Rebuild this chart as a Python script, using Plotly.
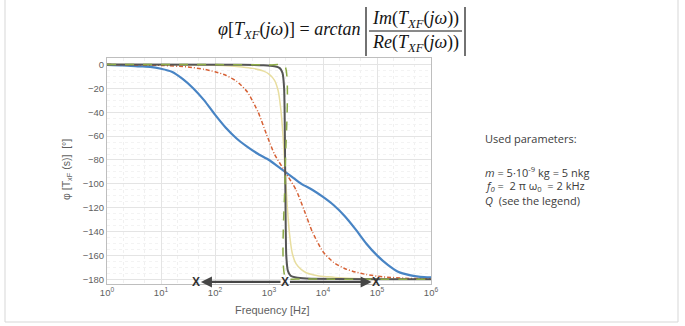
import plotly.graph_objects as go

# ---- data (log10 of frequency in Hz, phase in degrees) ----
blue_logf = [0, 0.3, 0.6, 0.8, 1.0, 1.2, 1.4, 1.6, 1.8, 2.0, 2.2, 2.4, 2.6, 2.8, 3.0, 3.15, 3.3,
             3.45, 3.6, 3.8, 4.0, 4.2, 4.4, 4.6, 4.8, 5.0, 5.2, 5.4, 5.6, 5.8, 6.0]
blue_phase = [-0.3, -0.7, -1.5, -2.0, -3.5, -6, -12, -20, -30, -42, -53, -62, -69, -75, -80, -85, -90,
              -95, -100, -105, -111, -118, -127, -138, -150, -160, -168, -174, -176.5, -178, -178.5]

red_logf = [0, 1.0, 1.5, 1.8, 2.0, 2.2, 2.4, 2.6, 2.8, 2.95, 3.1, 3.3,
            3.5, 3.65, 3.8, 4.0, 4.2, 4.4, 4.6, 4.8, 5.1, 5.6, 6.0]
red_phase = [0, -0.7, -2, -4, -6, -9, -14, -23, -40, -58, -75, -90,
             -105, -122, -140, -157, -166, -171, -174, -176, -178, -179.3, -179.7]

yellow_logf = [0, 1.5, 2.0, 2.3, 2.5, 2.7, 2.9, 3.0, 3.1, 3.17, 3.22, 3.26, 3.3,
               3.34, 3.38, 3.43, 3.5, 3.6, 3.7, 3.9, 4.1, 4.3, 4.7, 6.0]
yellow_phase = [0, -0.2, -0.5, -1.2, -2, -3.2, -5.5, -8, -13, -22, -38, -60, -90,
                -120, -142, -158, -167, -172, -174.8, -177, -178, -178.8, -179.5, -180]

grey_logf = [0, 2.5, 2.9, 3.1, 3.2, 3.25, 3.28, 3.3, 3.32, 3.35, 3.4, 3.5, 3.7, 6.0]
grey_phase = [0, -0.2, -0.6, -1.5, -3, -7, -20, -90, -160, -173, -177, -178.5, -179.3, -180]

green_logf = [0, 3.0, 3.29, 3.3, 3.31, 3.6, 6.0]
green_phase = [0, -0.3, -1, -90, -179, -179.7, -180]

x_tick_vals = [1, 10, 100, 1000, 10000, 100000, 1000000]
x_tick_text = ["10<sup>0</sup>", "10<sup>1</sup>", "10<sup>2</sup>", "10<sup>3</sup>",
               "10<sup>4</sup>", "10<sup>5</sup>", "10<sup>6</sup>"]
y_tick_vals = [0, -20, -40, -60, -80, -100, -120, -140, -160, -180]

marker_logf = [1.65, 3.3, 4.98]   # the "X" marks under the curves

# ---- geometry helpers (pixel -> paper) ----
W, H = 685, 326
L, R, T, B = 107, 431, 58, 284


def px(x):
    return (x - L) / (R - L)


def py(y):
    return (B - y) / (B - T)


fig = go.Figure()


def add(lf, ph, color, width, dash="solid"):
    fig.add_trace(go.Scatter(x=[10 ** v for v in lf], y=ph, mode="lines",
                             line=dict(color=color, width=width, dash=dash, shape="spline", smoothing=0.6),
                             hoverinfo="skip", showlegend=False))


add(yellow_logf, yellow_phase, "rgb(232,222,160)", 1.5)
add(blue_logf, blue_phase, "rgb(72,132,196)", 2.2)
add(red_logf, red_phase, "rgb(214,96,52)", 1.5, "4px,2px,1px,2px")
add(grey_logf, grey_phase, "rgb(85,85,85)", 2.0)
add(green_logf, green_phase, "rgb(140,170,70)", 1.5, "dash")

tick_font = dict(family="Liberation Sans", size=9.5, color="rgb(95,95,95)")
fig.update_xaxes(type="log", range=[0, 6], tickvals=x_tick_vals, ticktext=x_tick_text,
                 showgrid=True, gridcolor="rgb(228,228,228)", gridwidth=1,
                 minor=dict(showgrid=True, gridcolor="rgb(240,240,240)", griddash="dot", ticks=""),
                 showline=True, linecolor="rgb(190,190,190)", mirror=True, ticks="",
                 tickfont=tick_font, zeroline=False)
fig.update_yaxes(range=[-184, 5.5], tickvals=y_tick_vals,
                 showgrid=True, gridcolor="rgb(228,228,228)", gridwidth=1,
                 minor=dict(showgrid=True, dtick=5, gridcolor="rgb(243,243,243)", griddash="dot", ticks=""),
                 showline=True, linecolor="rgb(190,190,190)", mirror=True, ticks="",
                 tickfont=tick_font, zeroline=False)

ann = []


def text(x, y, t, font, xanchor="center", angle=0):
    ann.append(dict(x=px(x), y=py(y), xref="paper", yref="paper", xanchor=xanchor, yanchor="middle",
                    text=t, showarrow=False, font=font, textangle=angle))


# arrows along the bottom
yarr = -182.3
ann.append(dict(x=1.74, y=yarr, ax=3.24, ay=yarr, xref="x", yref="y", axref="x", ayref="y",
                text="", showarrow=True, arrowhead=2, arrowsize=1, arrowwidth=2.2, arrowcolor="rgb(70,70,70)"))
ann.append(dict(x=4.9, y=yarr, ax=3.36, ay=yarr, xref="x", yref="y", axref="x", ayref="y",
                text="", showarrow=True, arrowhead=2, arrowsize=1, arrowwidth=2.2, arrowcolor="rgb(70,70,70)"))
for m in marker_logf:
    ann.append(dict(x=m, y=yarr, xref="x", yref="y", xanchor="center", yanchor="middle",
                    text="<b>X</b>", showarrow=False,
                    font=dict(family="Liberation Sans", size=12, color="rgb(50,50,50)")))

# axis titles
text(272, 310, "Frequency [Hz]", dict(family="Liberation Sans", size=11, color="rgb(95,95,95)"))
text(67, 170, "\u03c6 [T<sub>xF</sub> (s)]  [\u00b0]",
     dict(family="Liberation Sans", size=10.5, color="rgb(95,95,95)"), angle=-90)

# equation
eq_font = dict(family="Liberation Serif", size=18, color="rgb(20,20,20)")
text(363, 31, "<i>\u03c6</i>[<i>T</i><sub><i>XF</i></sub>(<i>j\u03c9</i>)] = <i>arctan</i>",
     eq_font, xanchor="right")
text(415, 19, "<i>Im</i>(<i>T</i><sub><i>XF</i></sub>(<i>j\u03c9</i>))", eq_font)
text(415, 43, "<i>Re</i>(<i>T</i><sub><i>XF</i></sub>(<i>j\u03c9</i>))", eq_font)

# parameters text
pf = dict(family="Open Sans", size=11, color="rgb(60,60,60)")
text(483, 138, "Used parameters:", pf, xanchor="left")
text(483, 172, "<i>m</i> = 5\u00b710<sup>-9</sup> kg = 5 nkg", pf, xanchor="left")
text(483, 186, "<i>f<sub>0</sub></i> =  2 \u03c0 \u03c9<sub>0</sub>  = 2 kHz", pf, xanchor="left")
text(483, 200, "<i>Q</i>  (see the legend)", pf, xanchor="left")

shapes = [
    # slide frame
    dict(type="rect", xref="paper", yref="paper", x0=px(5), x1=px(678), y0=py(322), y1=py(-5),
         line=dict(color="rgb(215,215,215)", width=1), layer="below"),
    # fraction bar
    dict(type="line", xref="paper", yref="paper", x0=px(369), x1=px(462), y0=py(31), y1=py(31),
         line=dict(color="rgb(20,20,20)", width=1)),
    # absolute-value bars
    dict(type="line", xref="paper", yref="paper", x0=px(366), x1=px(366), y0=py(7), y1=py(56),
         line=dict(color="rgb(20,20,20)", width=1.2)),
    dict(type="line", xref="paper", yref="paper", x0=px(465), x1=px(465), y0=py(7), y1=py(56),
         line=dict(color="rgb(20,20,20)", width=1.2)),
]

fig.update_layout(width=W, height=H, margin=dict(l=L, r=W - R, t=T, b=H - B),
                  paper_bgcolor="white", plot_bgcolor="white",
                  annotations=ann, shapes=shapes, showlegend=False)

fig.write_html("out.html")
